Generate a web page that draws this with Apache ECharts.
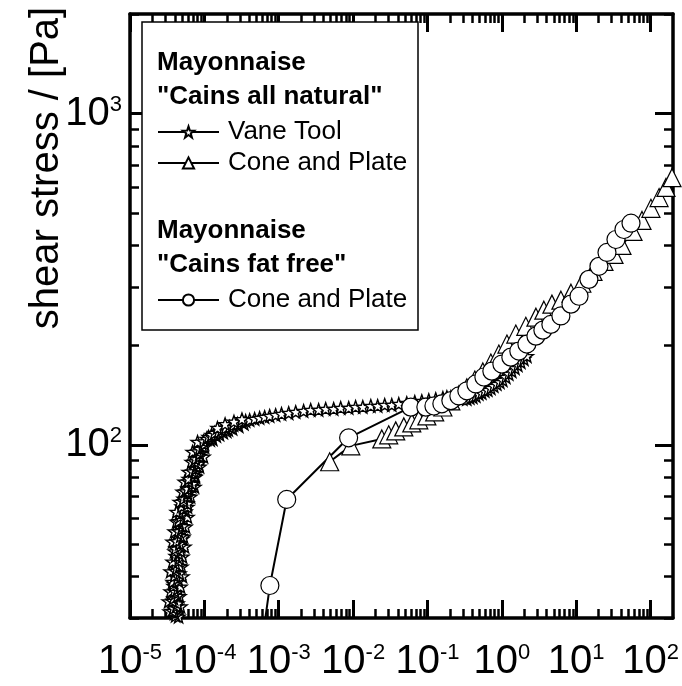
<!DOCTYPE html>
<html>
<head>
<meta charset="utf-8">
<script src="https://cdn.jsdelivr.net/npm/echarts@6/dist/echarts.min.js"></script>
<style>html,body{margin:0;padding:0;background:#fff}#c{width:682px;height:686px}</style>
</head>
<body>
<div id="c"></div>
<script>
// ---- data (shear rate [1/s] , shear stress [Pa]) ----
const vaneTool = [
 [3.97e-5,28.9],[3.20e-5,29.3],[3.62e-5,29.4],[3.51e-5,29.9],[4.50e-5,30.3],[4.10e-5,30.5],[3.97e-5,31.0],[3.40e-5,31.4],
 [3.73e-5,31.5],[3.85e-5,32.1],[4.79e-5,32.5],[4.23e-5,32.6],[4.36e-5,33.2],[3.30e-5,33.7],[3.73e-5,33.8],[3.85e-5,34.4],
 [4.64e-5,34.9],[4.36e-5,35.0],[4.10e-5,35.6],[3.51e-5,36.1],[3.97e-5,36.2],[4.36e-5,36.8],[4.79e-5,37.3],[3.85e-5,37.5],
 [3.85e-5,38.1],[3.73e-5,38.6],[4.50e-5,38.8],[4.36e-5,39.5],[5.09e-5,40.1],[3.97e-5,40.2],[4.64e-5,40.9],[3.51e-5,41.5],
 [4.10e-5,41.6],[4.23e-5,42.3],[4.94e-5,42.9],[4.64e-5,43.1],[4.10e-5,43.8],[3.73e-5,44.4],[4.50e-5,44.6],[4.64e-5,45.4],
 [5.09e-5,46.0],[4.10e-5,46.2],[4.50e-5,47.0],[3.97e-5,47.7],[4.79e-5,47.8],[4.10e-5,48.6],[5.42e-5,49.3],[4.79e-5,49.5],
 [4.64e-5,50.3],[3.73e-5,51.0],[4.23e-5,51.2],[5.09e-5,52.1],[5.25e-5,52.8],[4.79e-5,53.0],[4.36e-5,54.0],[3.97e-5,54.8],
 [4.50e-5,54.9],[4.94e-5,55.8],[5.59e-5,56.6],[5.09e-5,56.8],[4.64e-5,57.8],[4.23e-5,58.6],[4.50e-5,58.8],[5.25e-5,59.8],
 [5.94e-5,60.6],[4.79e-5,60.8],[4.64e-5,61.9],[4.23e-5,62.8],[5.59e-5,63.0],[5.25e-5,64.1],[5.94e-5,65.0],[4.94e-5,65.2],
 [5.94e-5,66.4],[4.64e-5,67.3],[5.25e-5,67.6],[5.25e-5,68.8],[6.52e-5,69.8],[5.94e-5,70.0],[5.94e-5,71.2],[5.09e-5,72.2],
 [5.59e-5,72.4],[5.94e-5,73.7],[7.38e-5,74.7],[6.73e-5,75.0],[6.94e-5,76.3],[5.42e-5,77.4],[6.13e-5,77.6],[6.13e-5,79.0],
 [7.61e-5,80.1],[7.38e-5,80.4],[7.38e-5,81.8],[6.13e-5,82.9],[6.94e-5,83.2],[7.61e-5,84.7],[8.62e-5,85.9],[7.85e-5,86.2],
 [8.35e-5,87.7],[6.73e-5,88.9],[7.38e-5,89.2],[7.61e-5,90.8],[9.75e-5,92.1],[8.62e-5,92.4],[8.62e-5,94.0],[6.94e-5,95.3],
 [8.10e-5,95.6],[8.62e-5,97.3],[1.006e-4,98.7],[9.46e-5,99.0],[1.006e-4,100.7],[8.10e-5,102.1],[9.75e-5,102.5],
 [1.2e-4,103.5],[1.3e-4,104.0],[1.071e-4,104.3],[1.139e-4,105.7],[1.25e-4,105.8],[1.45e-4,106.5],[1.25e-4,107.2],
 [1.6e-4,107.5],[1.37e-4,108.7],[1.8e-4,109.0],[1.55e-4,109.4],[2.0e-4,110.0],[1.71e-4,111.0],[2.1e-4,111.2],
 [2.4e-4,112.0],[1.93e-4,112.5],[1.5e-4,112.5],[2.18e-4,113.3],[2.9e-4,114.0],[2.47e-4,114.9],[1.9e-4,115.5],
 [2.80e-4,115.7],[3.4e-4,116.0],[3.17e-4,117.3],[2.5e-4,117.5],[3.59e-4,118.1],[4.06e-4,118.9],[3.2e-4,119.5],
 [4.74e-4,119.8],[5.53e-4,120.6],
 [6.46e-4,121.4],[7.55e-4,122.3],[9.08e-4,123.1],[1.09e-3,124.0],[1.36e-3,124.8],[1.69e-3,125.7],[2.16e-3,126.6],
 [2.69e-3,127.5],[3.44e-3,127.5],[4.28e-3,128.4],[5.48e-3,128.4],[6.81e-3,129.3],[8.73e-3,129.3],[0.0108,130.2],
 [0.0135,130.2],[0.0173,131.1],[0.0214,131.1],[0.0266,132.0],[0.0331,132.0],[0.0411,132.9],[0.0526,133.8],[0.0675,134.8],
 [0.0838,135.7],[0.104,136.6],[0.129,137.6],[0.161,138.6],[0.182,139.5],[0.206,139.5],[0.233,138.6],[0.264,138.6],
 [0.299,137.6],[0.338,137.6],[0.371,138.6],[0.407,139.5],[0.447,140.5],[0.490,142.5],[0.538,143.5],[0.590,145.5],
 [0.648,146.5],[0.711,148.5],[0.780,150.6],[0.857,152.7],[0.940,154.8],[1.03,157.0],[1.13,160.3],[1.24,163.7],
 [1.36,167.1],[1.50,170.6],[1.64,174.2],[1.80,177.8],[1.98,181.6],[2.17,185.4]
];
const conePlateNatural = [
 [4.84e-3,88.9],[9.3e-3,99.3],[0.0243,104.2],[0.0301,107.2],[0.0374,110.2],[0.048,113.3],[0.0615,116.5],[0.0764,119],
 [0.098,122.3],[0.125,125.7],[0.161,130.1],[0.206,135.7],[0.264,141.5],[0.338,148.6],[0.433,157],[0.555,166],
 [0.711,176.6],[0.911,188],[1.17,201.5],[1.54,216],[2.1,228],[2.87,243],[3.67,255],[4.71,266],[6.22,273.5],[8.49,287],
 [11.9,307.6],[16.8,334],[23.6,358],[32.2,376],[41.2,400],[58,441],[76.6,476],[101,518],[130,558],[161,599],[194,641],[213,687]
];
const conePlateFatFree = [
 [5.9e-4,25],[7.6e-4,37.6],[1.28e-3,68.4],[8.7e-3,105],[0.0596,130],[0.095,130],[0.122,131],[0.156,133],[0.206,136],
 [0.264,140.5],[0.338,145.6],[0.447,152.7],[0.573,160.3],[0.733,167],[1.0,175.4],[1.32,184],[1.69,192],[2.17,201.5],
 [2.87,213],[3.56,222],[4.56,231],[6.22,245],[8.49,266],[10.9,281],[14.8,316],[20.2,346],[25.9,381],[34.2,417],[43.8,447],[54.5,467]
];
// ---- axis ticks ----
const xMajorTicks = [1e-5,1e-4,1e-3,1e-2,1e-1,1e0,1e1,1e2];
const yMajorTicks = [100,1000];
const xRange = [1e-5, 200];
const yRange = [30, 2000];
const minorSteps = [2,3,4,5,6,7,8,9];
const xMinorTicks = [];
xMajorTicks.forEach(d => minorSteps.forEach(m => { const v = d*m; if (v < xRange[1]) xMinorTicks.push(v); }));
const yMinorTicks = [30,40,50,60,70,80,90,200,300,400,500,600,700,800,900,2000];

const FONT = '"Liberation Sans", Arial, sans-serif';
const starPath = 'path://M0,-10 L2.35,-3.24 L9.51,-3.09 L3.80,1.24 L5.88,8.09 L0,4 L-5.88,8.09 L-3.80,1.24 L-9.51,-3.09 L-2.35,-3.24 Z';

function powLabel(v){
  const e = Math.round(Math.log10(v));
  return '{b|10}{s|' + e + '}';
}
const labelRich = {
  b: {fontSize: 40, lineHeight: 40, fontFamily: FONT, color: '#000'},
  s: {fontSize: 22, lineHeight: 16, verticalAlign: 'top', fontFamily: FONT, color: '#000'}
};

function majorAxis(pos, ticks, range, showLabel, gridIndex, margin){
  return {
    type: 'log', gridIndex: gridIndex, position: pos, min: range[0], max: range[1], logBase: 10,
    axisLine: {show: true, onZero: false, lineStyle: {color: '#000', width: 3.5}},
    axisTick: {show: true, inside: true, length: 18, customValues: ticks, lineStyle: {color: '#000', width: 3}},
    axisLabel: {show: showLabel, customValues: ticks, formatter: powLabel, rich: labelRich, margin: margin},
    splitLine: {show: false}, minorTick: {show: false}
  };
}
function minorAxis(pos, ticks, range, gridIndex){
  return {
    type: 'log', gridIndex: gridIndex, position: pos, min: range[0], max: range[1], logBase: 10,
    axisLine: {show: false, onZero: false},
    axisTick: {show: true, inside: true, length: 9, customValues: ticks, lineStyle: {color: '#000', width: 2.5}},
    axisLabel: {show: false},
    splitLine: {show: false}, minorTick: {show: false}
  };
}

const gridRect = {left: 130, right: 9, top: 14, bottom: 68};
const legendCommon = {
  orient: 'vertical', itemWidth: 61, itemHeight: 14, selectedMode: false, padding: 5, z: 20,
  textStyle: {fontSize: 26, fontFamily: FONT, color: '#000', padding: [0,0,0,4]}
};

const chart = echarts.init(document.getElementById('c'), null, {renderer: 'canvas'});
chart.setOption({
  animation: false,
  backgroundColor: '#fff',
  grid: [Object.assign({}, gridRect), Object.assign({}, gridRect)],
  xAxis: [
    majorAxis('bottom', xMajorTicks, xRange, true, 0, 24),
    majorAxis('top', xMajorTicks, xRange, false, 0, 8),
    minorAxis('bottom', xMinorTicks, xRange, 1),
    minorAxis('top', xMinorTicks, xRange, 1)
  ],
  yAxis: [
    majorAxis('left', yMajorTicks, yRange, true, 0, 8),
    majorAxis('right', yMajorTicks, yRange, false, 0, 8),
    minorAxis('left', yMinorTicks, yRange, 1),
    minorAxis('right', yMinorTicks, yRange, 1)
  ],
  legend: [
    Object.assign({}, legendCommon, {data: ['Vane Tool'], left: 152, top: 114}),
    Object.assign({}, legendCommon, {data: ['Cone and Plate'], left: 152, top: 145}),
    Object.assign({}, legendCommon, {data: ['Cone and Plate (fat free)'], left: 152, top: 282,
      formatter: function(){ return 'Cone and Plate'; }})
  ],
  graphic: [
    {type: 'rect', z: 10, shape: {x: 142, y: 22, width: 276, height: 308},
     style: {fill: '#fff', stroke: '#000', lineWidth: 1.5}},
    {type: 'text', z: 11, x: 157, y: 63, style: {text: 'Mayonnaise', fontSize: 26, fontWeight: 'bold', fontFamily: FONT, fill: '#000', align: 'left', verticalAlign: 'middle'}},
    {type: 'text', z: 11, x: 157, y: 97, style: {text: '"Cains all natural"', fontSize: 26, fontWeight: 'bold', fontFamily: FONT, fill: '#000', align: 'left', verticalAlign: 'middle'}},
    {type: 'text', z: 11, x: 157, y: 231, style: {text: 'Mayonnaise', fontSize: 26, fontWeight: 'bold', fontFamily: FONT, fill: '#000', align: 'left', verticalAlign: 'middle'}},
    {type: 'text', z: 11, x: 157, y: 265, style: {text: '"Cains fat free"', fontSize: 26, fontWeight: 'bold', fontFamily: FONT, fill: '#000', align: 'left', verticalAlign: 'middle'}},
    {type: 'text', x: 47, y: 168, rotation: Math.PI/2, style: {text: 'shear stress / [Pa]', fontSize: 40, fontFamily: FONT, fill: '#000', align: 'center', verticalAlign: 'middle'}}
  ],
  series: [
    {name: 'Vane Tool', type: 'line', xAxisIndex: 0, yAxisIndex: 0, data: vaneTool,
     symbol: starPath, symbolSize: 13, symbolKeepAspect: true, showAllSymbol: true,
     lineStyle: {color: '#000', width: 2}, itemStyle: {color: '#fff', borderColor: '#000', borderWidth: 1.4}},
    {name: 'Cone and Plate', type: 'line', xAxisIndex: 0, yAxisIndex: 0, data: conePlateNatural,
     symbol: 'triangle', symbolSize: 18, showAllSymbol: true,
     lineStyle: {color: '#000', width: 2}, itemStyle: {color: '#fff', borderColor: '#000', borderWidth: 1.2}},
    {name: 'Cone and Plate (fat free)', type: 'line', xAxisIndex: 0, yAxisIndex: 0, data: conePlateFatFree,
     symbol: 'circle', symbolSize: 18, showAllSymbol: true,
     lineStyle: {color: '#000', width: 2}, itemStyle: {color: '#fff', borderColor: '#000', borderWidth: 1.2}}
  ]
});
</script>
</body>
</html>
